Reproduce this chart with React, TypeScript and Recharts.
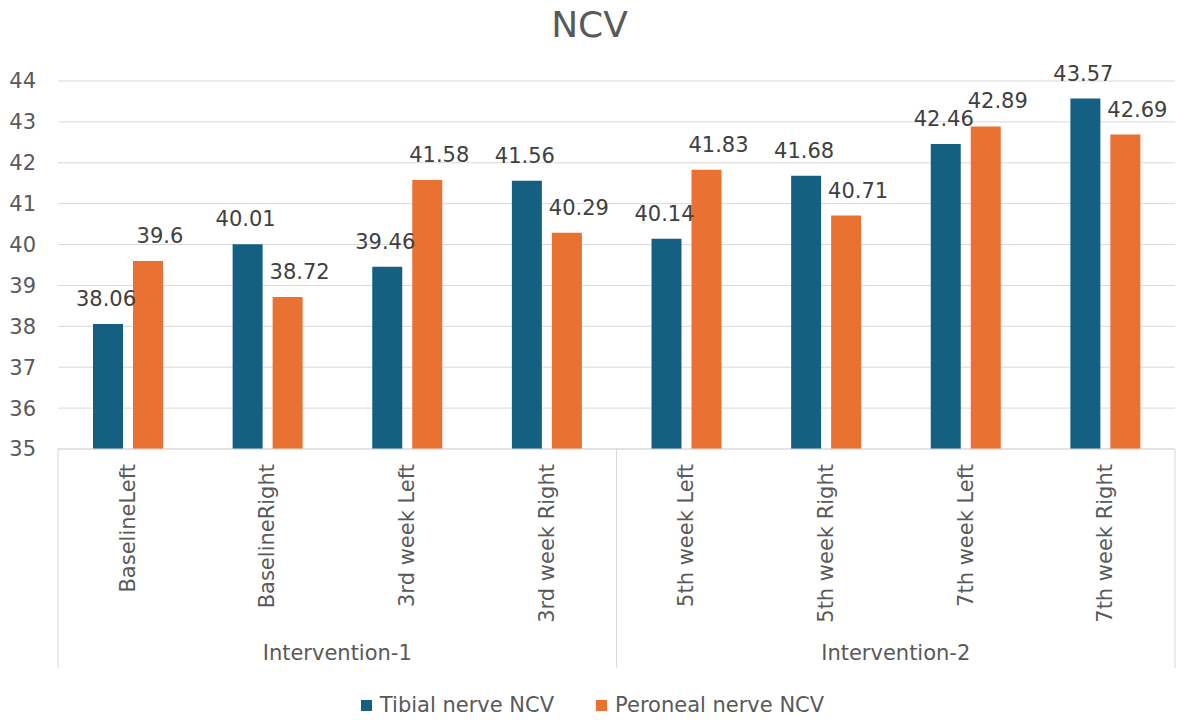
import React from 'react';
import { BarChart, Bar, XAxis, YAxis, CartesianGrid, Legend, LabelList } from 'recharts';

const categories = [
  'BaselineLeft',
  'BaselineRight',
  '3rd week Left',
  '3rd week Right',
  '5th week Left',
  '5th week Right',
  '7th week Left',
  '7th week Right',
];
const groups = ['Intervention-1', 'Intervention-2'];
const tibial = [38.06, 40.01, 39.46, 41.56, 40.14, 41.68, 42.46, 43.57];
const peroneal = [39.6, 38.72, 41.58, 40.29, 41.83, 40.71, 42.89, 42.69];
const yTicks = [35, 36, 37, 38, 39, 40, 41, 42, 43, 44];

const data = categories.map((name, i) => ({
  name,
  group: groups[Math.floor(i / 4)],
  tibial: tibial[i],
  peroneal: peroneal[i],
}));

const W = 1179;
const H = 720;
const Y_AXIS_W = 58;
const RIGHT = 4;
const BAND = (W - Y_AXIS_W - RIGHT) / categories.length;
const AXIS_H = 219;
const FONT = '"DejaVu Sans", sans-serif';
const FS = 21;
const TEXT = '#595959';
const GRID = '#d9d9d9';
const BLUE = '#156082';
const ORANGE = '#E97132';

const CategoryTick = (props: any) => {
  const { x, y, payload, index } = props;
  const i = payload?.index ?? index;
  return (
    <g>
      <text
        x={x + 7}
        y={y + 15}
        transform={`rotate(-90, ${x + 7}, ${y + 15})`}
        textAnchor="end"
        fontSize={FS}
        fill={TEXT}
        fontFamily={FONT}
      >
        {payload.value}
      </text>
      {i === 0 && <line x1={x - BAND / 2} x2={x - BAND / 2} y1={y} y2={y + AXIS_H} stroke={GRID} />}
      {i % 4 === 3 && <line x1={x + BAND / 2} x2={x + BAND / 2} y1={y} y2={y + AXIS_H} stroke={GRID} />}
      {i % 4 === 1 && (
        <text x={x + BAND / 2} y={y + 211} textAnchor="middle" fontSize={FS} fill={TEXT} fontFamily={FONT}>
          {data[i].group}
        </text>
      )}
    </g>
  );
};

const valueLabel = (dx: number) => (props: any) => {
  const { x, y, width, value } = props;
  return (
    <text
      x={x + width / 2 + dx}
      y={y - 18}
      textAnchor="middle"
      fontSize={FS}
      fill="#404040"
      fontFamily={FONT}
    >
      {value}
    </text>
  );
};

const LegendContent = () => (
  <div
    style={{
      height: 52,
      paddingTop: 22,
      boxSizing: 'border-box',
      display: 'flex',
      justifyContent: 'center',
      alignItems: 'center',
      fontFamily: FONT,
      fontSize: FS,
      color: TEXT,
      paddingLeft: 10,
    }}
  >
    {[
      { label: 'Tibial nerve NCV', color: BLUE },
      { label: 'Peroneal nerve NCV', color: ORANGE },
    ].map((item, k) => (
      <div key={item.label} style={{ display: 'flex', alignItems: 'center', marginLeft: k ? 42 : 0 }}>
        <span style={{ width: 11, height: 11, background: item.color, marginRight: 8, display: 'inline-block' }} />
        <span style={{ lineHeight: '30px' }}>{item.label}</span>
      </div>
    ))}
  </div>
);

export default function App() {
  return (
    <div style={{ position: 'relative', width: W, height: H, background: '#fff' }}>
      <style>{'body{margin:0}'}</style>
      <div
        style={{
          position: 'absolute',
          top: 3,
          left: 0,
          width: W,
          textAlign: 'center',
          fontFamily: FONT,
          fontSize: 36,
          color: TEXT,
          lineHeight: '44px',
        }}
      >
        NCV
      </div>
      <BarChart
        width={W}
        height={H}
        data={data}
        margin={{ top: 81, right: RIGHT, left: 0, bottom: 0 }}
        barSize={30}
        barGap={10}
      >
        <CartesianGrid vertical={false} stroke={GRID} />
        <XAxis
          dataKey="name"
          height={AXIS_H}
          interval={0}
          tickLine={false}
          tickSize={0}
          tickMargin={0}
          axisLine={{ stroke: GRID }}
          tick={<CategoryTick />}
        />
        <YAxis
          width={Y_AXIS_W}
          domain={[35, 44]}
          ticks={yTicks}
          allowDataOverflow
          tickLine={false}
          axisLine={false}
          tickSize={0}
          tickMargin={22}
          tick={{ fontSize: FS, fill: TEXT, fontFamily: FONT }}
        />
        <Legend verticalAlign="bottom" content={<LegendContent />} />
        <Bar dataKey="tibial" name="Tibial nerve NCV" fill={BLUE} isAnimationActive={false}>
          <LabelList dataKey="tibial" content={valueLabel(-2)} />
        </Bar>
        <Bar dataKey="peroneal" name="Peroneal nerve NCV" fill={ORANGE} isAnimationActive={false}>
          <LabelList dataKey="peroneal" content={valueLabel(12)} />
        </Bar>
      </BarChart>
    </div>
  );
}
